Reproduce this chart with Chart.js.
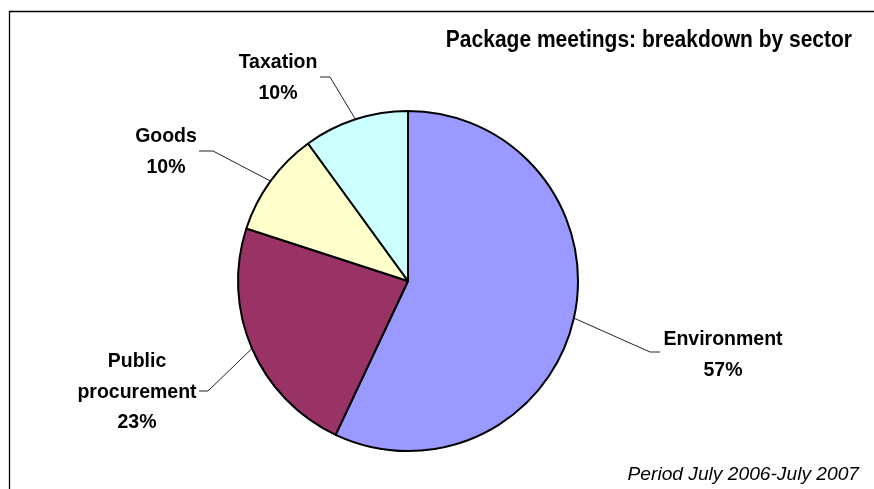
<!DOCTYPE html>
<html><head><meta charset="utf-8">
<style>html,body{margin:0;padding:0;background:#fff}#wrap{width:874px;height:489px;position:relative}</style>
<script src="https://cdn.jsdelivr.net/npm/chart.js@4"></script>
</head><body><div id="wrap"><canvas id="c" width="874" height="489"></canvas></div>
<script>
const categories = ['Environment', 'Public procurement', 'Goods', 'Taxation'];
const values = [57, 23, 10, 10];
const nameLines = [['Environment'], ['Public', 'procurement'], ['Goods'], ['Taxation']];
const colors = ['#9999FF', '#993366', '#FFFFCC', '#CCFFFF'];
const titleText = 'Package meetings: breakdown by sector';
const footnoteText = 'Period July 2006-July 2007';

// annotation layout (label placement only)
const labelLayout = [
  {elbow: [650, 352], end: 660, tx: 723, ty: 345},
  {elbow: [208, 391], end: 199, tx: 137, ty: 367},
  {elbow: [213, 151], end: 199, tx: 166, ty: 142},
  {elbow: [330, 77],  end: 320, tx: 278, ty: 68}
];
const FONT = '"Liberation Sans", Arial, sans-serif';

function drawText(ctx, text, x, y, font, align, sy) {
  ctx.save();
  ctx.font = font;
  ctx.textAlign = align;
  ctx.textBaseline = 'alphabetic';
  ctx.fillStyle = '#000';
  ctx.translate(x, y);
  ctx.scale(1, sy);
  ctx.fillText(text, 0, 0);
  ctx.restore();
}

const annotations = {
  id: 'annotations',
  beforeDraw(chart) {
    const ctx = chart.ctx;
    ctx.save();
    ctx.strokeStyle = '#000';
    ctx.lineWidth = 1.3;
    ctx.beginPath();
    ctx.moveTo(9.5, 489);
    ctx.lineTo(9.5, 11.5);
    ctx.lineTo(874, 11.5);
    ctx.stroke();
    ctx.restore();
  },
  afterDraw(chart) {
    const ctx = chart.ctx;
    const meta = chart.getDatasetMeta(0);
    const total = values.reduce((a, b) => a + b, 0);
    meta.data.forEach((arc, i) => {
      const p = arc.getProps(['x', 'y', 'startAngle', 'endAngle', 'outerRadius'], true);
      const mid = (p.startAngle + p.endAngle) / 2;
      const sx = p.x + Math.cos(mid) * p.outerRadius;
      const sy = p.y + Math.sin(mid) * p.outerRadius;
      const L = labelLayout[i];
      ctx.save();
      ctx.strokeStyle = '#222';
      ctx.lineWidth = 1;
      ctx.beginPath();
      ctx.moveTo(sx, sy);
      ctx.lineTo(L.elbow[0], L.elbow[1]);
      ctx.lineTo(L.end, L.elbow[1]);
      ctx.stroke();
      ctx.restore();
      const lines = nameLines[i].concat([Math.round(values[i] / total * 100) + '%']);
      lines.forEach((t, k) => {
        drawText(ctx, t, L.tx, L.ty + k * 30.5, 'bold 19.5px ' + FONT, 'center', 1.07);
      });
    });
    drawText(ctx, titleText, 852, 47, 'bold 21px ' + FONT, 'right', 1.12);
    drawText(ctx, footnoteText, 859, 480, 'italic 19.2px ' + FONT, 'right', 1.0);
  }
};

new Chart(document.getElementById('c'), {
  type: 'pie',
  data: {
    labels: categories,
    datasets: [{
      data: values,
      backgroundColor: colors,
      borderColor: '#000',
      borderWidth: 2
    }]
  },
  options: {
    responsive: false,
    animation: false,
    events: [],
    layout: {padding: {left: 237, right: 295, top: 110, bottom: 37}},
    plugins: {legend: {display: false}, title: {display: false}, tooltip: {enabled: false}}
  },
  plugins: [annotations]
});
</script>
</body></html>
